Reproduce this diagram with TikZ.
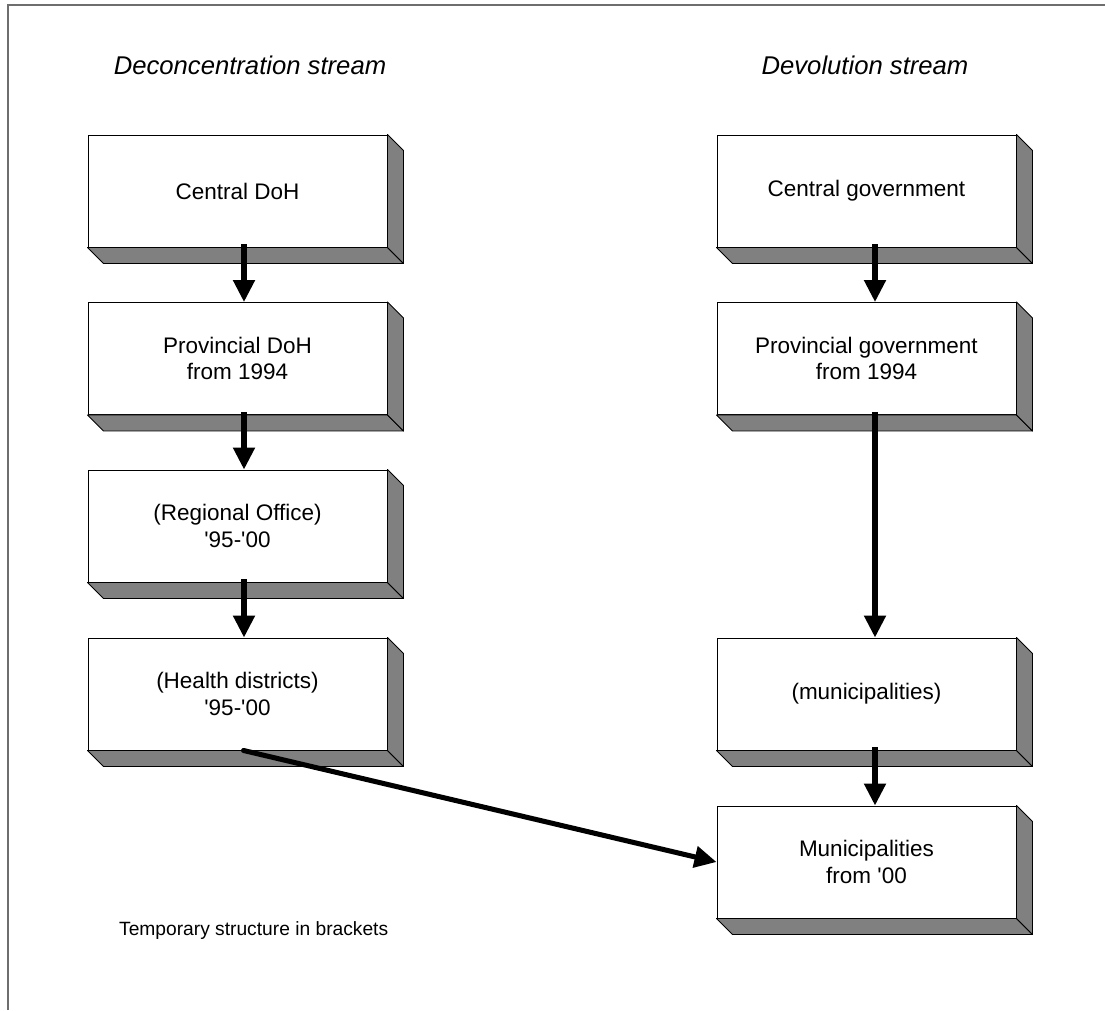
\documentclass[tikz,border=0pt]{standalone}
\usepackage{fontspec}
\setmainfont{Liberation Sans}
\usetikzlibrary{arrows.meta}
\definecolor{slab-grey}{HTML}{808080}
\definecolor{frame-grey}{HTML}{6E6E6E}

\tikzset{
  slab/.style={draw, fill=white, line width=0.8pt, inner sep=0pt,
    minimum width=8.97cm, minimum height=3.36cm, align=center,
    font=\fontsize{19.2}{22.6}\selectfont},
  flow/.style={-{Triangle[width=0.63cm, length=0.66cm]}, line width=4.3pt},
}

\begin{document}
\begin{tikzpicture}[x=0.03cm, y=-0.03cm]
    \useasboundingbox (0,0) rectangle (1105,1010);
    \draw[frame-grey, line width=1.1pt] (8,1010) -- (8,5) -- (1105,5);

    % stream headings
    \node[font=\itshape\fontsize{21.9}{26}\selectfont] (dectitle) at (250,65) {Deconcentration stream};
    \node[font=\itshape\fontsize{21.9}{26}\selectfont] (devtitle) at (865,65) {Devolution stream};

    % deconcentration
    \node[slab] (cdoh) at (237.5,191) {Central DoH};
    \node[slab] (pdoh) at (237.5,358.5) {Provincial DoH\\from 1994};
    \node[slab] (regoff) at (237.5,526) {(Regional Office)\\\textquotesingle 95-\textquotesingle 00};
    \node[slab] (hdist) at (237.5,694) {(Health districts)\\\textquotesingle 95-\textquotesingle 00};

    % devolution
    \node[slab] (cgov) at (866.5,191) {Central government};
    \node[slab] (pgov) at (866.5,358.5) {Provincial government\\from 1994};
    \node[slab] (munitemp) at (866.5,694) {(municipalities)};
    \node[slab] (muni) at (866.5,862) {Municipalities\\from \textquotesingle 00};

    % shaded sides of the slabs
    \foreach \b in {cdoh,pdoh,regoff,hdist,cgov,pgov,munitemp,muni} {
      \filldraw[fill=slab-grey, line width=0.8pt, line join=round]
        (\b.south west) -- (\b.south east) -- ++(16,16)
        -- ([shift={(16,16)}]\b.south west) -- cycle;
      \filldraw[fill=slab-grey, line width=0.8pt, line join=round]
        (\b.north east) -- ++(16,16) -- ([shift={(16,16)}]\b.south east)
        -- (\b.south east) -- cycle;
    }

    \draw[flow] ([shift={(6.5,-3)}]cdoh.south) -- ([shift={(6.5,0)}]pdoh.north);
    \draw[flow] ([shift={(6.5,-3)}]pdoh.south) -- ([shift={(6.5,0)}]regoff.north);
    \draw[flow] ([shift={(6.5,-3)}]regoff.south) -- ([shift={(6.5,0)}]hdist.north);
    \draw[flow] ([shift={(8.5,-3)}]cgov.south) -- ([shift={(8.5,0)}]pgov.north);
    \draw[flow] ([shift={(8.5,-3)}]pgov.south) -- ([shift={(8.5,0)}]munitemp.north);
    \draw[flow] ([shift={(8.5,-3)}]munitemp.south) -- ([shift={(8.5,0)}]muni.north);
    \draw[flow, line cap=round] ([shift={(6,0)}]hdist.south) -- (muni.west);

    \node[anchor=west, font=\fontsize{16.4}{20}\selectfont] (note) at (115,931) {Temporary structure in brackets};
\end{tikzpicture}
\end{document}
